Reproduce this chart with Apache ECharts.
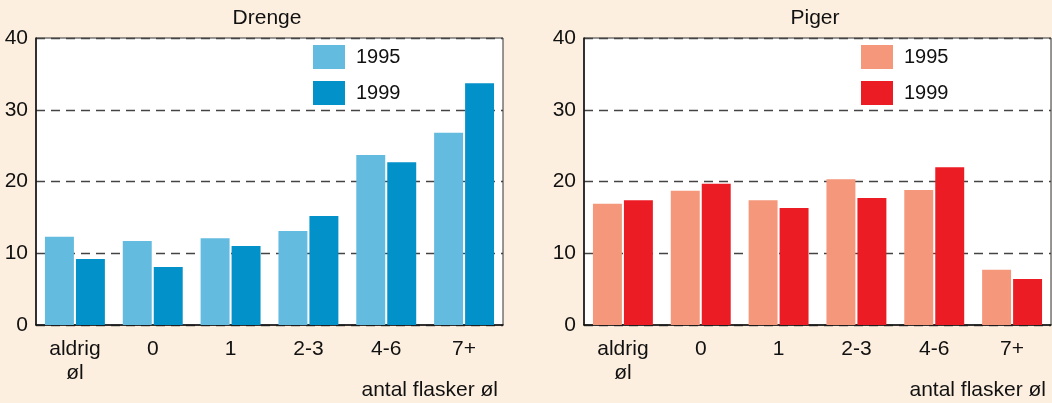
<!DOCTYPE html>
<html>
<head>
<meta charset="utf-8">
<script src="https://cdn.jsdelivr.net/npm/echarts@6/dist/echarts.min.js"></script>
<style>
  html, body { margin: 0; padding: 0; background: #fdefdf; }
  #main { width: 1052px; height: 403px; }
</style>
</head>
<body>
<div id="main"></div>
<script>
// data
var categories = ['aldrig\nøl', '0', '1', '2-3', '4-6', '7+'];
var drenge1995 = [12.3, 11.7, 12.1, 13.1, 23.7, 26.8];
var drenge1999 = [9.2, 8.1, 11.0, 15.2, 22.7, 33.7];
var piger1995 = [16.9, 18.7, 17.4, 20.3, 18.8, 7.7];
var piger1999 = [17.4, 19.7, 16.3, 17.7, 22.0, 6.4];
var yTicks = [0, 10, 20, 30, 40];

var myChart = echarts.init(document.getElementById('main'));
var font = 'Liberation Sans, Arial, sans-serif';
var colors = ['#63bbe0', '#0391c9', '#f4977a', '#ec1c24'];

function makeX(idx) {
    return {
        type: 'category',
        gridIndex: idx,
        data: categories,
        axisTick: { show: false },
        axisLine: { lineStyle: { color: '#111', width: 1.5 } },
        axisLabel: {
            color: '#111', fontSize: 21, fontFamily: font,
            margin: 12, lineHeight: 24, interval: 0
        }
    };
}
function makeY(idx) {
    return {
        type: 'value',
        gridIndex: idx,
        min: yTicks[0],
        max: yTicks[yTicks.length - 1],
        interval: 10,
        axisLine: { show: true, lineStyle: { color: '#111', width: 1.5 } },
        axisTick: { show: false },
        axisLabel: { color: '#111', fontSize: 21, fontFamily: font, margin: 8 },
        splitLine: {
            show: true,
            lineStyle: { color: '#444', width: 1.4, type: [9, 6] }
        }
    };
}
function makeBar(name, idx, data, color) {
    return {
        name: name,
        type: 'bar',
        xAxisIndex: idx,
        yAxisIndex: idx,
        data: data,
        barGap: '7%',
        barCategoryGap: '23%',
        itemStyle: { color: color },
        emphasis: { disabled: true }
    };
}
function makeLegend(names, left) {
    return {
        data: names,
        orient: 'vertical', left: left, top: 45, padding: 0,
        icon: 'rect',
        itemWidth: 32, itemHeight: 24, itemGap: 12,
        formatter: function (n) { return n.slice(1); },
        textStyle: { fontSize: 20, color: '#111', fontFamily: font, padding: [0, 0, 0, 6] }
    };
}

var option = {
    animation: false,
    backgroundColor: '#fdefdf',
    title: [{
        text: 'Drenge', left: 262, top: 3, textAlign: 'center',
        textStyle: { fontSize: 21, fontWeight: 'normal', color: '#111', fontFamily: font }
    }, {
        text: 'Piger', left: 810, top: 3, textAlign: 'center',
        textStyle: { fontSize: 21, fontWeight: 'normal', color: '#111', fontFamily: font }
    }],
    grid: [
        { left: 36, top: 38, width: 467, height: 287, show: true,
          backgroundColor: '#fff', borderColor: '#333', borderWidth: 1 },
        { left: 584, top: 38, width: 467, height: 287, show: true,
          backgroundColor: '#fff', borderColor: '#333', borderWidth: 1 }
    ],
    legend: [makeLegend(['D1995', 'D1999'], 313), makeLegend(['P1995', 'P1999'], 861)],
    xAxis: [makeX(0), makeX(1)],
    yAxis: [makeY(0), makeY(1)],
    series: [
        makeBar('D1995', 0, drenge1995, colors[0]),
        makeBar('D1999', 0, drenge1999, colors[1]),
        makeBar('P1995', 1, piger1995, colors[2]),
        makeBar('P1999', 1, piger1999, colors[3])
    ],
    graphic: [{
        type: 'text', right: 554, top: 380,
        style: { text: 'antal flasker øl', fill: '#111', font: '21px ' + font }
    }, {
        type: 'text', right: 6, top: 380,
        style: { text: 'antal flasker øl', fill: '#111', font: '21px ' + font }
    }]
};

myChart.setOption(option);
</script>
</body>
</html>
